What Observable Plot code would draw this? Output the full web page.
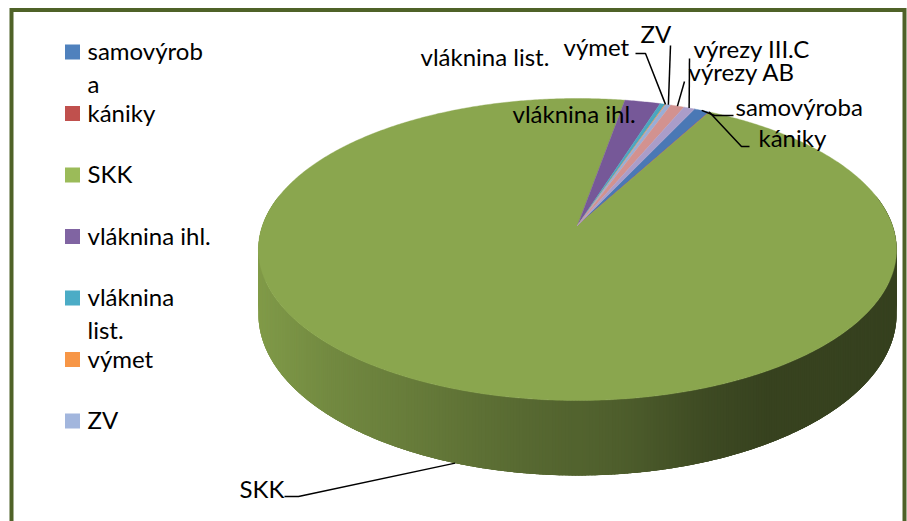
<!DOCTYPE html>
<html><head><meta charset="utf-8">
<script src="https://cdn.jsdelivr.net/npm/d3@7"></script>
<script src="https://cdn.jsdelivr.net/npm/@observablehq/plot@0.6"></script>
<style>html,body{margin:0;padding:0;background:#fff;} #chart svg{display:block}</style>
</head><body><div id="chart"></div>
<script>
// ---- data ----
const categories = ["samovýroba","kániky","SKK","vláknina ihl.","vláknina list.","výmet","ZV","výrezy AB","výrezy III.C"];
const shares = [0.92, 0.03, 94.9, 2.1, 0.3, 0.05, 0.3, 0.8, 0.64];
const sliceColors = ["#4A78B5","#BE4B48","#8AA64E","#765898","#4AA7C0","#F08F42","#98AED7","#D29290","#AA9DC9"];
const legendLabels = ["samovýroba","kániky","SKK","vláknina ihl.","vláknina list.","výmet","ZV"];
const legendColors = ["#4F81BD","#C0504D","#9BBB59","#8064A2","#4BACC6","#F79646","#A2B6DD"];

// ---- layout ----
const FONT = "Lato, 'Open Sans', sans-serif";
const FS = 24;
const pie3d = {cx:577, cy:225, a:315, b:147.2, k:0.159, h:63, startDeg:25.1};
const legendWrap = {"samovýroba":["samovýrob","a"], "vláknina list.":["vláknina","list."]};
const legendLayout = {swatchX:65, swatchSize:15, textX:87, top:52, step:61.5, lineStep:32.5};
const labelLayout = {
  "samovýroba":   {x:735, base:115, lead:[[733,115],[714,115]]},
  "kániky":       {x:758, base:146, lead:[[749,146],[741,146]]},
  "SKK":          {x:239, base:497, lead:[[284,496],[298,496]], face:"bottom"},
  "vláknina ihl.":{x:512, base:122},
  "vláknina list.":{x:420, base:65},
  "výmet":        {x:563, base:55, lead:[[635,53],[645,53]]},
  "ZV":           {x:640, base:42, lead:[[670,45]]},
  "výrezy AB":    {x:688, base:80, lead:[[684,81]]},
  "výrezy III.C": {x:693, base:57, lead:[[689,58]]}
};
const frameColor = "#4F6228";

// ---- geometry ----
const rad = d => d * Math.PI / 180;
const P = pie3d;
function proj(ang, z) {
  const u = Math.sin(ang), v = Math.cos(ang), s = 1 / (1 + P.k * v);
  return [P.cx + P.a * u * s, P.cy - P.b * v * s + P.h * z * s];
}
const arcs = d3.pie().sort(null).value((d, i) => shares[i])
  .startAngle(rad(P.startDeg)).endAngle(rad(P.startDeg) + 2 * Math.PI)(categories);
const step = rad(0.5);

const topPts = [];
arcs.forEach((a, i) => {
  const id = "top-" + i, c = sliceColors[i];
  topPts.push({id, x: P.cx, y: P.cy, c});
  const n = Math.max(1, Math.ceil((a.endAngle - a.startAngle) / step));
  for (let j = 0; j <= n; j++) {
    const t = a.startAngle + (a.endAngle - a.startAngle) * j / n;
    const [x, y] = proj(t, 0);
    topPts.push({id, x, y, c});
  }
});

const shade = d3.scaleLinear()
  .domain([258, 330, 420, 520, 620, 700, 760, 907])
  .range([0.93, 0.83, 0.74, 0.64, 0.56, 0.45, 0.40, 0.39]).clamp(true);
const strips = [];
const overlap = rad(0.6);
arcs.forEach((a, i) => {
  const n = Math.max(1, Math.ceil((a.endAngle - a.startAngle) / step));
  for (let j = 0; j < n; j++) {
    const t0 = a.startAngle + (a.endAngle - a.startAngle) * j / n;
    const t1 = a.startAngle + (a.endAngle - a.startAngle) * (j + 1) / n;
    const tm = (t0 + t1) / 2;
    if (Math.cos(tm) > 0.2) continue;
    const f = shade(proj(tm, 0)[0]);
    const b = d3.rgb(sliceColors[i]);
    const c = d3.rgb(b.r * f, b.g * f, b.b * f).formatHex();
    const e0 = Math.max(a.startAngle, t0 - overlap), e1 = Math.min(a.endAngle, t1 + overlap);
    strips.push({v: Math.cos(tm), c, pts: [proj(e0, 0), proj(tm, 0), proj(e1, 0), proj(e1, 1), proj(tm, 1), proj(e0, 1)]});
  }
});
strips.sort((p, q) => q.v - p.v);
const sidePts = strips.flatMap((s, k) => s.pts.map(([x, y]) => ({id: "s" + k, x, y, c: s.c})));

const leaders = [];
const labels = [];
arcs.forEach((a, i) => {
  const name = categories[i], L = labelLayout[name];
  if (!L) return;
  labels.push({name, x: L.x, y: L.base - 0.32 * FS});
  if (!L.lead) return;
  const mid = (a.startAngle + a.endAngle) / 2;
  const end = proj(mid, L.face === "bottom" ? 1 : 0);
  [...L.lead, end].forEach(([x, y]) => leaders.push({id: name, x, y}));
});

const legendRows = legendLabels.map((name, i) => ({name, c: legendColors[i], y: legendLayout.top + legendLayout.step * i}));
const legendText = legendRows.flatMap(r => (legendWrap[r.name] || [r.name]).map((t, j) => ({t, y: r.y + j * legendLayout.lineStep})));

const chart = Plot.plot({
  width: 907, height: 521, margin: 0,
  x: {domain: [0, 907], range: [0, 907], axis: null},
  y: {domain: [0, 521], range: [0, 521], axis: null},
  color: {type: "identity"},
  style: {background: "#fff", fontFamily: FONT, fontSize: FS + "px", color: "#000"},
  marks: [
    Plot.line(sidePts, {x: "x", y: "y", z: "id", fill: "c", stroke: "none", curve: "linear-closed"}),
    Plot.line(topPts, {x: "x", y: "y", z: "id", fill: "c", stroke: "c", strokeWidth: 0.4, curve: "linear-closed"}),
    Plot.line(leaders, {x: "x", y: "y", z: "id", stroke: "#000", strokeWidth: 1.5, strokeLinecap: "butt", strokeLinejoin: "miter"}),
    Plot.text(labels, {x: "x", y: "y", text: "name", textAnchor: "start", fill: "#000", fontSize: FS}),
    Plot.rect(legendRows, {x1: legendLayout.swatchX, x2: legendLayout.swatchX + legendLayout.swatchSize,
      y1: d => d.y - legendLayout.swatchSize / 2, y2: d => d.y + legendLayout.swatchSize / 2, fill: "c"}),
    Plot.text(legendText, {x: legendLayout.textX, y: "y", text: "t", textAnchor: "start", fill: "#000", fontSize: FS}),
    Plot.frame({stroke: frameColor, strokeWidth: 4, insetLeft: 11, insetTop: 9.5, insetRight: 3, insetBottom: -20})
  ]
});
document.getElementById("chart").appendChild(chart);
</script>
</body></html>
